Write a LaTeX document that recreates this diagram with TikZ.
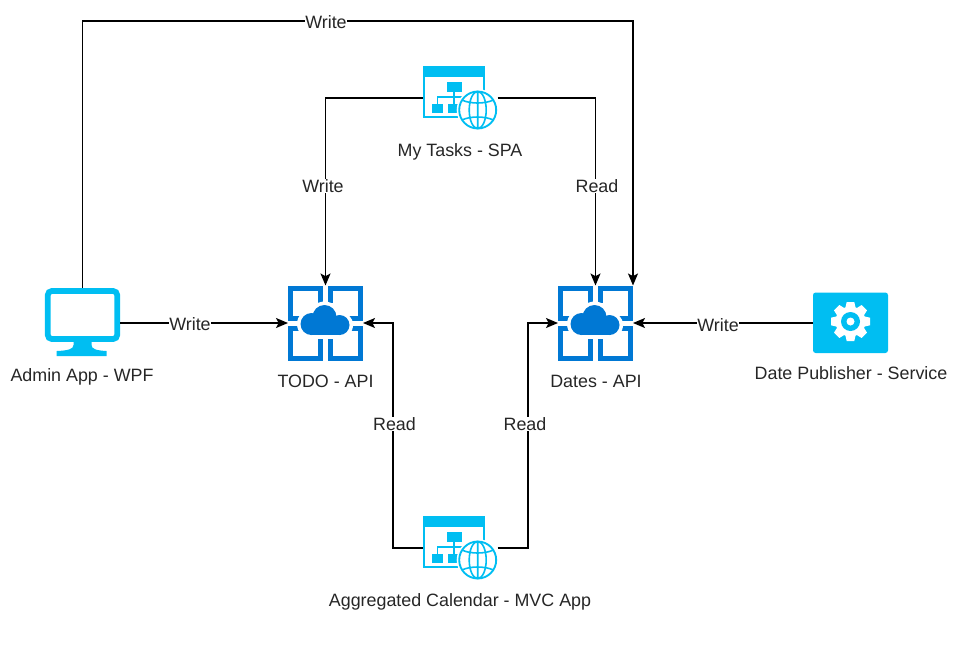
\documentclass[tikz,border=0pt]{standalone}
\usepackage{fontspec}
\setmainfont{Liberation Sans}
\usetikzlibrary{arrows.meta}
\definecolor{appblue}{HTML}{00BEF2}
\definecolor{apiblue}{HTML}{0078D4}
\tikzset{
    box/.style={inner sep=0pt,outer sep=0pt,minimum width=75*0.75pt,minimum height=75*0.75pt},
    txt/.style={font=\fontsize{13.4}{15}\selectfont,text=black!85,inner sep=1.5pt},
    tag/.style={txt,fill=white,inner sep=0.5pt},
    link/.style={line width=1pt,-{Stealth[length=9pt,width=7.5pt,inset=2pt]}},
    % webapp icon, origin at the centre of its box
    pics/webicon/.style={code={
        \fill[appblue] (-37,-32) rectangle (24,-21);
        \draw[appblue,line width=1.4pt] (-36,-31) rectangle (24,19);
        \fill[appblue] (-13,-16) rectangle (2,-6.5);
        \fill[appblue] (-28,6) rectangle (-17,14.5);
        \fill[appblue] (-12,6) rectangle (0,14.5);
        \draw[appblue,line width=1pt] (-6,-6.5) -- (-6,6) (-22.5,6) -- (-22.5,-1) -- (16,-1);
        \fill[white] (17.7,12) circle (21);
        \draw[appblue,line width=1.4pt] (17.7,12) circle (18.5);
        \draw[appblue,line width=1.2pt] (17.7,12) ellipse (8.5 and 18.5) (17.7,-6.5) -- (17.7,30.5)
            (2,2) .. controls (10,6) and (25,6) .. (33.4,2)
            (2,22) .. controls (10,18) and (25,18) .. (33.4,22);
    }},
    % cloud api icon
    pics/apiicon/.style={code={
        \begin{scope}[apiblue,line width=3.75pt]
            \draw (-5,-20) -- (-5,-35) -- (-35,-35) -- (-35,-5) -- (-22,-5);
            \draw (5,-20) -- (5,-35) -- (35,-35) -- (35,-5) -- (22,-5);
            \draw (-22,5) -- (-35,5) -- (-35,35) -- (-5,35) -- (-5,10);
            \draw (22,5) -- (35,5) -- (35,35) -- (5,35) -- (5,10);
        \end{scope}
        \fill[white] (-14,1) circle (14.5);
        \fill[white] (-1,-6) circle (15.5);
        \fill[white] (14,2) circle (13.5);
        \fill[white] (-14,2) rectangle (14,15.5);
        \fill[apiblue] (-14,1) circle (11);
        \fill[apiblue] (-1,-6) circle (12);
        \fill[apiblue] (14,2) circle (10);
        \fill[apiblue] (-14,2) rectangle (14,12);
    }},
    % desktop icon
    pics/deskicon/.style={code={
        \draw[appblue,line width=4.3pt,rounded corners=3pt] (-34.7,-32) rectangle (34.7,16);
        \fill[appblue] (-9,17) -- (9,17) -- (9,22) .. controls (9,26) and (14,27.5) .. (24,28) -- (24,33) -- (-25.8,33) -- (-25.8,28) .. controls (-14,27.5) and (-9,26) .. (-9,22) -- cycle;
    }},
    % service tile with a gear
    pics/gearicon/.style={code={
        \fill[appblue,rounded corners=2pt] (-37.5,-30.5) rectangle (37.5,30);
        \begin{scope}[shift={(0,-1.5)}]
            \foreach \a in {0,45,...,315}
                \fill[white,rotate=\a] (-6,-10) -- (-3.8,-19.5) -- (3.8,-19.5) -- (6,-10) -- cycle;
            \fill[white] (0,0) circle (15);
            \fill[appblue] (0,0) circle (9.5);
            \fill[white] (0,0) circle (4);
        \end{scope}
    }}
}
\begin{document}
\begin{tikzpicture}[x=0.75pt,y=-0.75pt]
        \useasboundingbox (0,0) rectangle (958,662);

        \node[box,minimum height=70*0.75pt] (admin) at (82.5,323) {};
        \node[box] (todo) at (325.5,323) {};
        \node[box] (dates) at (595.5,323) {};
        \node[box,minimum height=60*0.75pt] (publisher) at (850.5,323) {};
        \node[box,minimum height=64*0.75pt] (spa) at (460,98) {};
        \node[box,minimum height=64*0.75pt] (mvc) at (460,548) {};

        \pic at (admin) {deskicon};
        \pic at (todo) {apiicon};
        \pic at (dates) {apiicon};
        \pic at (publisher) {gearicon};
        \pic at (spa) {webicon};
        \pic at (mvc) {webicon};

        \node[txt] (adminlbl) at (82,377) {Admin App - WPF};
        \node[txt] (todolbl) at (325.5,381) {TODO - API};
        \node[txt] (dateslbl) at (596,381) {Dates - API};
        \node[txt] (publisherlbl) at (851,373) {Date Publisher - Service};
        \node[txt] (spalbl) at (460,152) {My Tasks - SPA};
        \node[txt] (mvclbl) at (460,602) {Aggregated Calendar - MVC App};

        \coordinate (topleft) at (82.5,21);
        \coordinate (spaleft) at (423,98);
        \coordinate (mvcleft) at (423,548);

        \path[draw,link] (admin.north) -- (topleft) -| (dates.north east);
        \path[draw,link] (spaleft) -| (todo.north);
        \path[draw,link] (spa.east) -| (dates.north);
        \path[draw,link] (admin.east) -- (todo.west);
        \path[draw,link] (publisher.west) -- (dates.east);
        \path[draw,link] (mvcleft) -| (393,323) -- (todo.east);
        \path[draw,link] (mvc.east) -| (528,323) -- (dates.west);

        \node[tag] (tagtop) at (326,22) {Write};
        \node[tag] (tagspaw) at (323,186) {Write};
        \node[tag] (tagspar) at (597,186) {Read};
        \node[tag] (tagadmin) at (190,324) {Write};
        \node[tag] (tagpub) at (718,325) {Write};
        \node[tag] (tagmvcl) at (394.5,424) {Read};
        \node[tag] (tagmvcr) at (525,424) {Read};
    \end{tikzpicture}
\end{document}
